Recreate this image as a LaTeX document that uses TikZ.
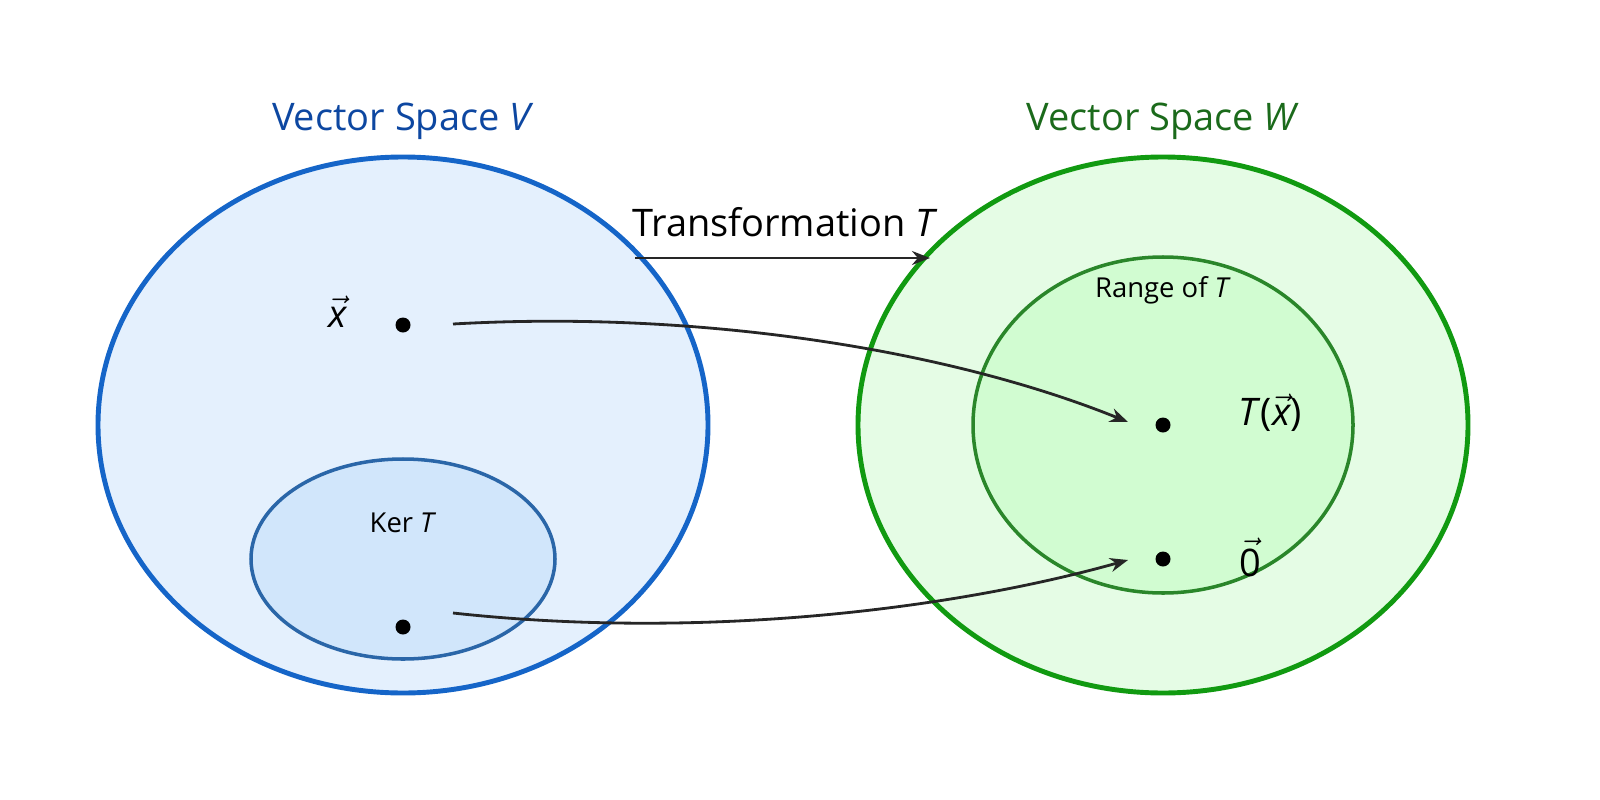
\documentclass[tikz,border=0pt]{standalone}
\usepackage{fontspec}
\setmainfont{Open Sans}
\usetikzlibrary{arrows.meta}
\definecolor{vb}{HTML}{1565C8}
\definecolor{vf}{HTML}{E4F0FD}
\definecolor{kb}{HTML}{2A66A8}
\definecolor{kf}{HTML}{D1E6FB}
\definecolor{wb}{HTML}{119A11}
\definecolor{wf}{HTML}{E5FCE5}
\definecolor{rb}{HTML}{2A862A}
\definecolor{rf}{HTML}{D1FCD1}
\definecolor{tv}{HTML}{0D47A1}
\definecolor{tw}{HTML}{1B6A1B}
\begin{document}
\begin{tikzpicture}[x=0.01cm,y=-0.01cm,
 dot/.style={circle,fill=black,inner sep=0pt,minimum size=0.15cm},
 arr/.style={-{Stealth[length=0.18cm,width=0.14cm]},line width=0.8pt,draw=black!85},
 lbl/.style={inner sep=0pt},
 big/.style={font=\fontsize{10.8}{13}\selectfont},
 sml/.style={font=\fontsize{7.8}{9.5}\selectfont}]
\useasboundingbox (0,0) rectangle (1600,800);
\draw[vb,fill=vf,line width=1.4pt] (403,425) ellipse [x radius=305,y radius=268];
\draw[kb,fill=kf,line width=1pt] (403,559) ellipse [x radius=152,y radius=100];
\draw[wb,fill=wf,line width=1.4pt] (1163,425) ellipse [x radius=305,y radius=268];
\draw[rb,fill=rf,line width=1pt] (1163,425) ellipse [x radius=190,y radius=168];
\node[lbl,text=tv,big] at (403,121) {Vector Space \textit{V}};
\node[lbl,text=tw,big] at (1163,121) {Vector Space \textit{W}};
\node[lbl,big] at (785,222) {Transformation \textit{T}};
\node[lbl,sml] at (403,523) {Ker \textit{T}};
\node[lbl,sml] at (1163,290) {Range of \textit{T}};
\node[lbl,big] at (338,312) {$\vec{\textit{x}}$};
\node[lbl,big] at (1270,413) {\textit{T}($\vec{\textit{x}}$)};
\node[lbl,big] at (1250,557) {$\vec{\textrm{0}}$};
\node[dot] (x) at (403,325) {};
\node[dot] (k) at (403,627) {};
\node[dot] (tx) at (1163,425) {};
\node[dot] (z) at (1163,559) {};
\coordinate (a1) at (635,258); \coordinate (a2) at (930,258);
\draw[arr] (a1) -- (a2);
\coordinate (s1) at (453,324); \coordinate (e1) at (1128,422);
\coordinate (s2) at (453,613); \coordinate (e2) at (1128,560);
\draw[arr] (s1) .. controls (700,310) and (950,350) .. (e1);
\draw[arr] (s2) .. controls (700,640) and (950,610) .. (e2);
\end{tikzpicture}
\end{document}
